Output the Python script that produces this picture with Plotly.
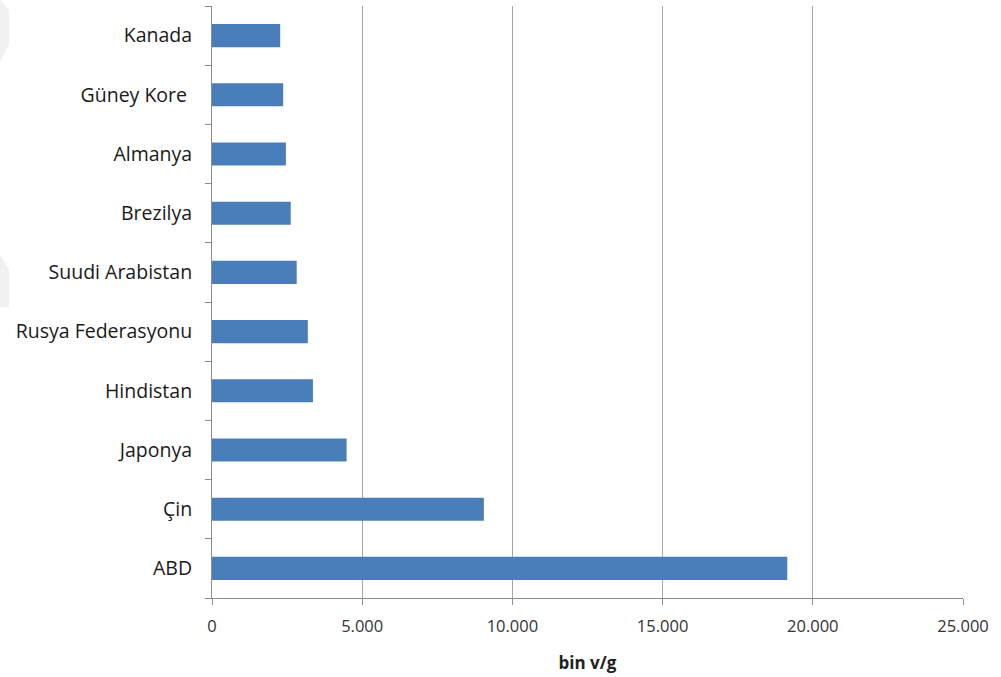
import plotly.graph_objects as go

# Countries, bottom to top, and their values (bin v/g)
countries = ["ABD", "Çin", "Japonya", "Hindistan", "Rusya Federasyonu",
             "Suudi Arabistan", "Brezilya", "Almanya", "Güney Kore ", "Kanada"]
values = [19150, 9050, 4480, 3360, 3190, 2820, 2620, 2460, 2370, 2270]

x_ticks = [0, 5000, 10000, 15000, 20000, 25000]

W, H = 1001, 677
M_L, M_R, M_T, M_B = 212, 38, 6, 79
PW, PH = W - M_L - M_R, H - M_T - M_B


def px(x, y):
    """Page pixel position -> plot-domain fractions."""
    return (x - M_L) / PW, 1 - (y - M_T) / PH


def path(points):
    parts = []
    for i, (x, y) in enumerate(points):
        fx, fy = px(x, y)
        parts.append(("M" if i == 0 else "L") + f"{fx:.4f},{fy:.4f}")
    return " ".join(parts) + " Z"


fig = go.Figure(go.Bar(
    x=values,
    y=countries,
    orientation="h",
    marker=dict(color="#4a7ebb", line=dict(width=0)),
))

# faint decorative marks on the left page edge
edge_marks = [
    [(0, 0), (9, 10), (9, 45), (0, 62)],
    [(0, 255), (9, 270), (9, 307), (0, 307)],
]
for pts in edge_marks:
    fig.add_shape(type="path", path=path(pts), xref="x domain", yref="y domain",
                  fillcolor="#f1f1f1", line=dict(width=0), layer="below")

font_family = "Open Sans, Noto Sans, sans-serif"

fig.update_layout(
    width=W,
    height=H,
    margin=dict(l=M_L, r=M_R, t=M_T, b=M_B),
    paper_bgcolor="white",
    plot_bgcolor="white",
    bargap=0.61,
    separators=",.",
    showlegend=False,
    font=dict(family=font_family, size=16, color="#1a1a1a"),
    xaxis=dict(
        range=[0, 25000],
        tickvals=x_ticks,
        tickformat=",d",
        showgrid=True,
        gridcolor="#a6a6a6",
        gridwidth=1,
        zeroline=False,
        showline=True,
        linecolor="#8c8c8c",
        linewidth=1,
        ticks="outside",
        ticklen=6,
        tickcolor="#8c8c8c",
        tickfont=dict(size=16.5, color="#333333"),
        ticklabelstandoff=7,
        title=dict(text="<b>bin v/g</b>", font=dict(size=17, color="#222222"), standoff=21),
    ),
    yaxis=dict(
        type="category",
        categoryorder="array",
        categoryarray=countries,
        range=[-0.5, 9.5],
        showgrid=False,
        showline=True,
        linecolor="#8c8c8c",
        linewidth=1,
        ticks="outside",
        tickson="boundaries",
        ticklen=6,
        tickcolor="#8c8c8c",
        tickfont=dict(size=19.5, color="#1a1a1a"),
        ticklabelstandoff=15,
    ),
)

fig.write_html("out.html")
